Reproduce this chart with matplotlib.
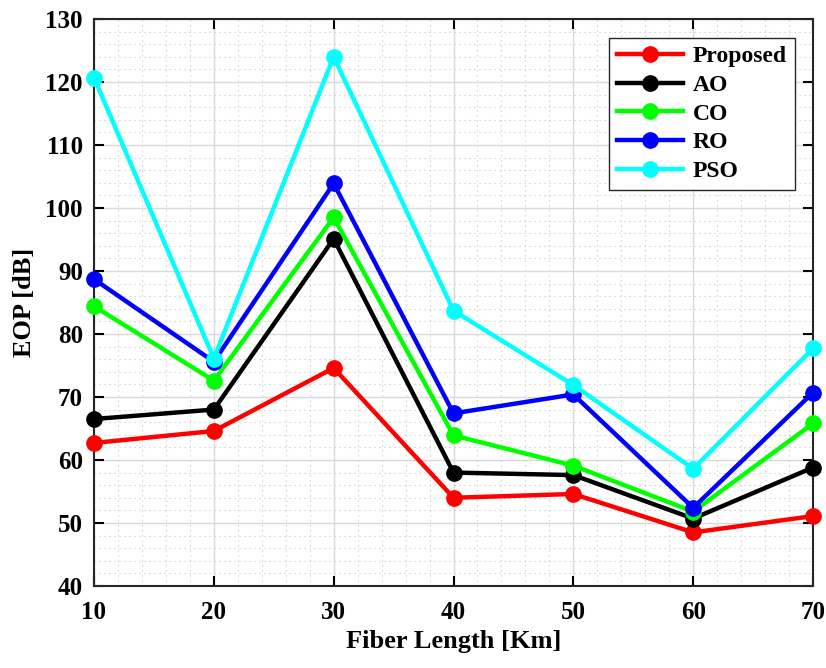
import numpy as np
import matplotlib.pyplot as plt
from matplotlib.ticker import MultipleLocator

# Fiber length (Km)
fiber_len = [10, 20, 30, 40, 50, 60, 70]

# EOP values [dB]
eop_proposed = [62.7, 64.6, 74.6, 54.0, 54.6, 48.5, 51.1]
eop_ao = [66.5, 68.0, 95.1, 58.0, 57.6, 50.7, 58.8]
eop_co = [84.4, 72.6, 98.5, 63.9, 59.1, 51.8, 65.8]
eop_ro = [88.7, 75.6, 103.9, 67.4, 70.4, 52.4, 70.7]
eop_pso = [120.7, 76.1, 124.0, 83.7, 71.9, 58.6, 77.7]

series = [
    ('Proposed', eop_proposed, '#ff0000'),
    ('AO', eop_ao, '#000000'),
    ('CO', eop_co, '#00ff00'),
    ('RO', eop_ro, '#0000ff'),
    ('PSO', eop_pso, '#00ffff'),
]

plt.rcParams['font.family'] = ['Liberation Serif', 'DejaVu Serif']
plt.rcParams['font.weight'] = 'bold'

fig = plt.figure(figsize=(8.26, 6.68), dpi=100)
ax = fig.add_axes([0.1138, 0.1228, 0.8705, 0.8488])

for name, vals, col in series:
    ax.plot(fiber_len, vals, color=col, linewidth=3.2, marker='o',
            markersize=11, label=name, clip_on=False, zorder=3)

ax.set_xlim(10, 70)
ax.set_ylim(40, 130)
ax.xaxis.set_major_locator(MultipleLocator(10))
ax.yaxis.set_major_locator(MultipleLocator(10))
ax.xaxis.set_minor_locator(MultipleLocator(2))
ax.yaxis.set_minor_locator(MultipleLocator(2))

ax.grid(which='major', color='#d9d9d9', linewidth=1.0, linestyle='-')
ax.grid(which='minor', color='#c4c4c4', linewidth=0.8, linestyle=(0, (1, 3.5)))
ax.set_axisbelow(True)

ax.tick_params(which='major', direction='in', length=7, width=1.5,
               top=True, right=True, labelsize=18)
ax.tick_params(axis='x', which='major', pad=11)
ax.tick_params(axis='y', which='major', pad=8)
ax.tick_params(which='minor', length=0, top=True, right=True)
for lab in ax.get_xticklabels() + ax.get_yticklabels():
    lab.set_fontweight('bold')

for sp in ax.spines.values():
    sp.set_linewidth(1.5)
    sp.set_color('#262626')

ax.set_xlabel('Fiber Length [Km]', fontsize=19, fontweight='bold', labelpad=4)
ax.set_ylabel('EOP [dB]', fontsize=19, fontweight='bold', labelpad=7)

leg = ax.legend(loc='upper right', bbox_to_anchor=(0.975, 0.967),
                borderaxespad=0, fontsize=17, fancybox=False, framealpha=1,
                edgecolor='#262626', handlelength=2.8, borderpad=0.35,
                labelspacing=0.3, handletextpad=0.4)
leg.get_frame().set_linewidth(1.0)
for t in leg.get_texts():
    t.set_fontweight('bold')

fig.savefig('out.png', dpi=100)
